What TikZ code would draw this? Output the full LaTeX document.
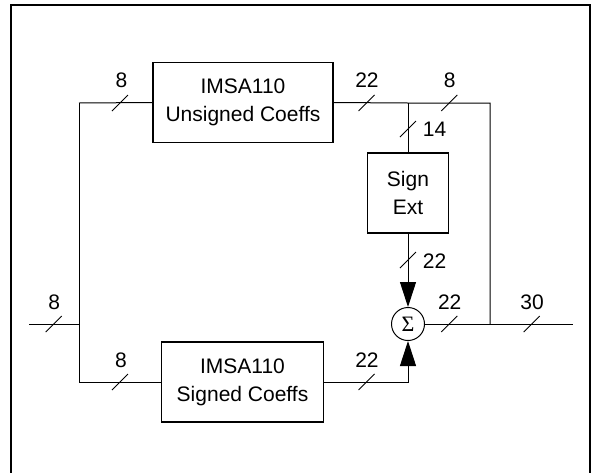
\documentclass[tikz,border=0pt]{standalone}
\usepackage{fontspec}
\setmainfont{Liberation Sans}
\newfontfamily\sumfont{Liberation Serif}
\usetikzlibrary{arrows.meta,positioning,calc}

\begin{document}
\begin{tikzpicture}[x=1pt, y=-1pt, line width=1pt, >={Triangle[length=25pt,width=16pt]}]
	\tikzstyle{block}=[draw=black, line width=1.6pt, fill=white, align=center, inner sep=0pt, font=\fontsize{21}{28}\selectfont]
	\tikzstyle{lbl}=[anchor=base, inner sep=0pt, font=\fontsize{21}{25}\selectfont]
	\tikzstyle{adder}=[draw=black, line width=1pt, circle, minimum size=33pt, inner sep=0pt, font=\sumfont\fontsize{22}{24}\selectfont]
	\tikzset{bus/.pic={\draw[line width=0.9pt] (-8,8) -- (8,-8);}}
	\useasboundingbox (0,0) rectangle (595,472);
	% frame
	\draw[line width=2pt] (11.4,473) -- (11.4,5) -- (590,5) -- (590,473);

	% blocks
	\node[block, minimum width=180pt, minimum height=80pt] (unsigned) at (243,102.5) {IMSA110\\Unsigned Coeffs};
	\node[block, minimum width=162pt, minimum height=80pt] (signed)   at (242.5,382) {IMSA110\\Signed Coeffs};
	\node[block, minimum width=81pt, minimum height=80pt]  (signext)  at (408,192.7) {Sign\\Ext};
	\node[adder] (sum) at (408,324) {Σ};

	% junctions
	\coordinate (in)  at (29,324);
	\coordinate (jl)  at (79,324);
	\coordinate (tl)  at (79,103);
	\coordinate (bl)  at (79,382);
	\coordinate (jt)  at (408,103);
	\coordinate (tr)  at (490,103);
	\coordinate (jr)  at (490,324);
	\coordinate (br)  at (408,382);
	\coordinate (out) at (573,324);

	% wires
	\draw (in) -- (jl);
	\draw (tl) -- (bl);
	\draw (tl) -- (unsigned.west);
	\draw (bl) -- (signed.west);
	\draw (unsigned.east) -- (jt) -- (tr) -- (jr);
	\draw (jt) -- (signext.north);
	\draw[->] (signext.south) -- (sum.north);
	\draw[->] (signed.east) -- (br) -- (sum.south);
	\draw (sum.east) -- (out);

	% bus widths
	\pic at (120,103)   {bus};
	\pic at (366.6,103) {bus};
	\pic at (449.3,103) {bus};
	\pic at (408,129)   {bus};
	\pic at (408,260)   {bus};
	\pic at (53.7,324)  {bus};
	\pic at (120,382)   {bus};
	\pic at (366.6,382) {bus};
	\pic at (449.3,324) {bus};
	\pic at (531.7,324) {bus};

	\node[lbl] (w1)  at (121.4,87) {8};
	\node[lbl] (w2)  at (367,87)   {22};
	\node[lbl] (w3)  at (449.7,87) {8};
	\node[lbl] (w4)  at (434.5,136) {14};
	\node[lbl] (w5)  at (434.5,268) {22};
	\node[lbl] (w6)  at (54.3,309) {8};
	\node[lbl] (w7)  at (121,367)  {8};
	\node[lbl] (w8)  at (367,367)  {22};
	\node[lbl] (w9)  at (449.7,309) {22};
	\node[lbl] (w10) at (532,309)  {30};
\end{tikzpicture}
\end{document}
